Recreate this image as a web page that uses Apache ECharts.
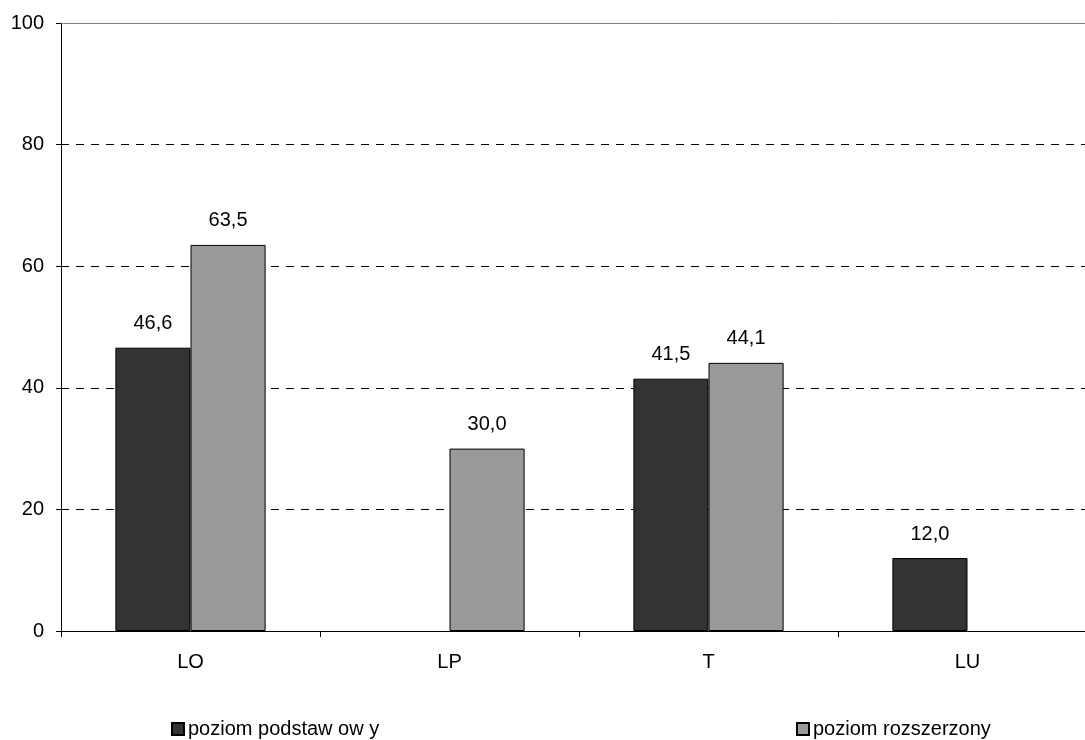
<!DOCTYPE html>
<html>
<head>
<meta charset="utf-8">
<script src="https://cdn.jsdelivr.net/npm/echarts@6/dist/echarts.min.js"></script>
<style>
html,body{margin:0;padding:0;background:#fff;overflow:hidden;}
#wrap{width:1085px;height:740px;overflow:hidden;}
#chart{width:1098px;height:740px;}
</style>
</head>
<body>
<div id="wrap"><div id="chart"></div></div>
<script>
// Categories and series values
var categories = ['LO', 'LP', 'T', 'LU'];
var podstawowy = [46.6, null, 41.5, 12.0];
var rozszerzony = [63.5, 30.0, 44.1, null];
var seriesNames = ['poziom podstaw ow y', 'poziom rozszerzony'];
var yTicks = [0, 20, 40, 60, 80, 100];

var FONT = 'Liberation Sans, Arial, sans-serif';

function fmt(p) {
  return p.value == null ? '' : p.value.toFixed(1).replace('.', ',');
}

var legendBase = {
  top: 719,
  padding: 0,
  itemWidth: 12, itemHeight: 12, itemGap: 4,
  icon: 'rect',
  textStyle: {fontFamily: FONT, fontSize: 20, color: '#000', padding: [0, 0, 0, -1]}
};

// the canvas is a little wider than the visible frame, so the plot runs to the right edge
var chart = echarts.init(document.getElementById('chart'), null, {renderer: 'canvas'});
chart.setOption({
  animation: false,
  backgroundColor: '#ffffff',
  grid: {left: 61, right: 1, top: 23, bottom: 109, containLabel: false},
  legend: [
    Object.assign({data: [seriesNames[0]], left: 171}, legendBase),
    Object.assign({data: [seriesNames[1]], left: 796}, legendBase)
  ],
  xAxis: [
    {
      type: 'category',
      data: categories,
      axisLine: {lineStyle: {color: '#000', width: 1}},
      axisTick: {show: true, length: 6, lineStyle: {color: '#000'}},
      axisLabel: {fontFamily: FONT, fontSize: 20, color: '#000', margin: 21}
    },
    {
      type: 'category',
      data: categories,
      position: 'top',
      axisLine: {show: true, lineStyle: {color: '#808080', width: 1}},
      axisTick: {show: false},
      axisLabel: {show: false}
    }
  ],
  yAxis: {
    type: 'value',
    min: yTicks[0], max: yTicks[yTicks.length - 1], interval: 20,
    axisLine: {show: true, lineStyle: {color: '#000', width: 1}},
    axisTick: {show: true, length: 5, lineStyle: {color: '#000'}},
    axisLabel: {fontFamily: FONT, fontSize: 20, color: '#000', margin: 17},
    splitLine: {show: true, lineStyle: {color: '#000', type: [8, 7], width: 1}}
  },
  series: [
    {
      name: seriesNames[0],
      type: 'bar',
      data: podstawowy,
      barGap: '0%',
      barCategoryGap: '42%',
      itemStyle: {color: '#333333', borderColor: '#000', borderWidth: 1},
      label: {show: true, position: 'top', distance: 14, formatter: fmt,
        fontFamily: FONT, fontSize: 20, color: '#000'}
    },
    {
      name: seriesNames[1],
      type: 'bar',
      data: rozszerzony,
      itemStyle: {color: '#999999', borderColor: '#000', borderWidth: 1},
      label: {show: true, position: 'top', distance: 14, formatter: fmt,
        fontFamily: FONT, fontSize: 20, color: '#000'}
    }
  ]
});
</script>
</body>
</html>
